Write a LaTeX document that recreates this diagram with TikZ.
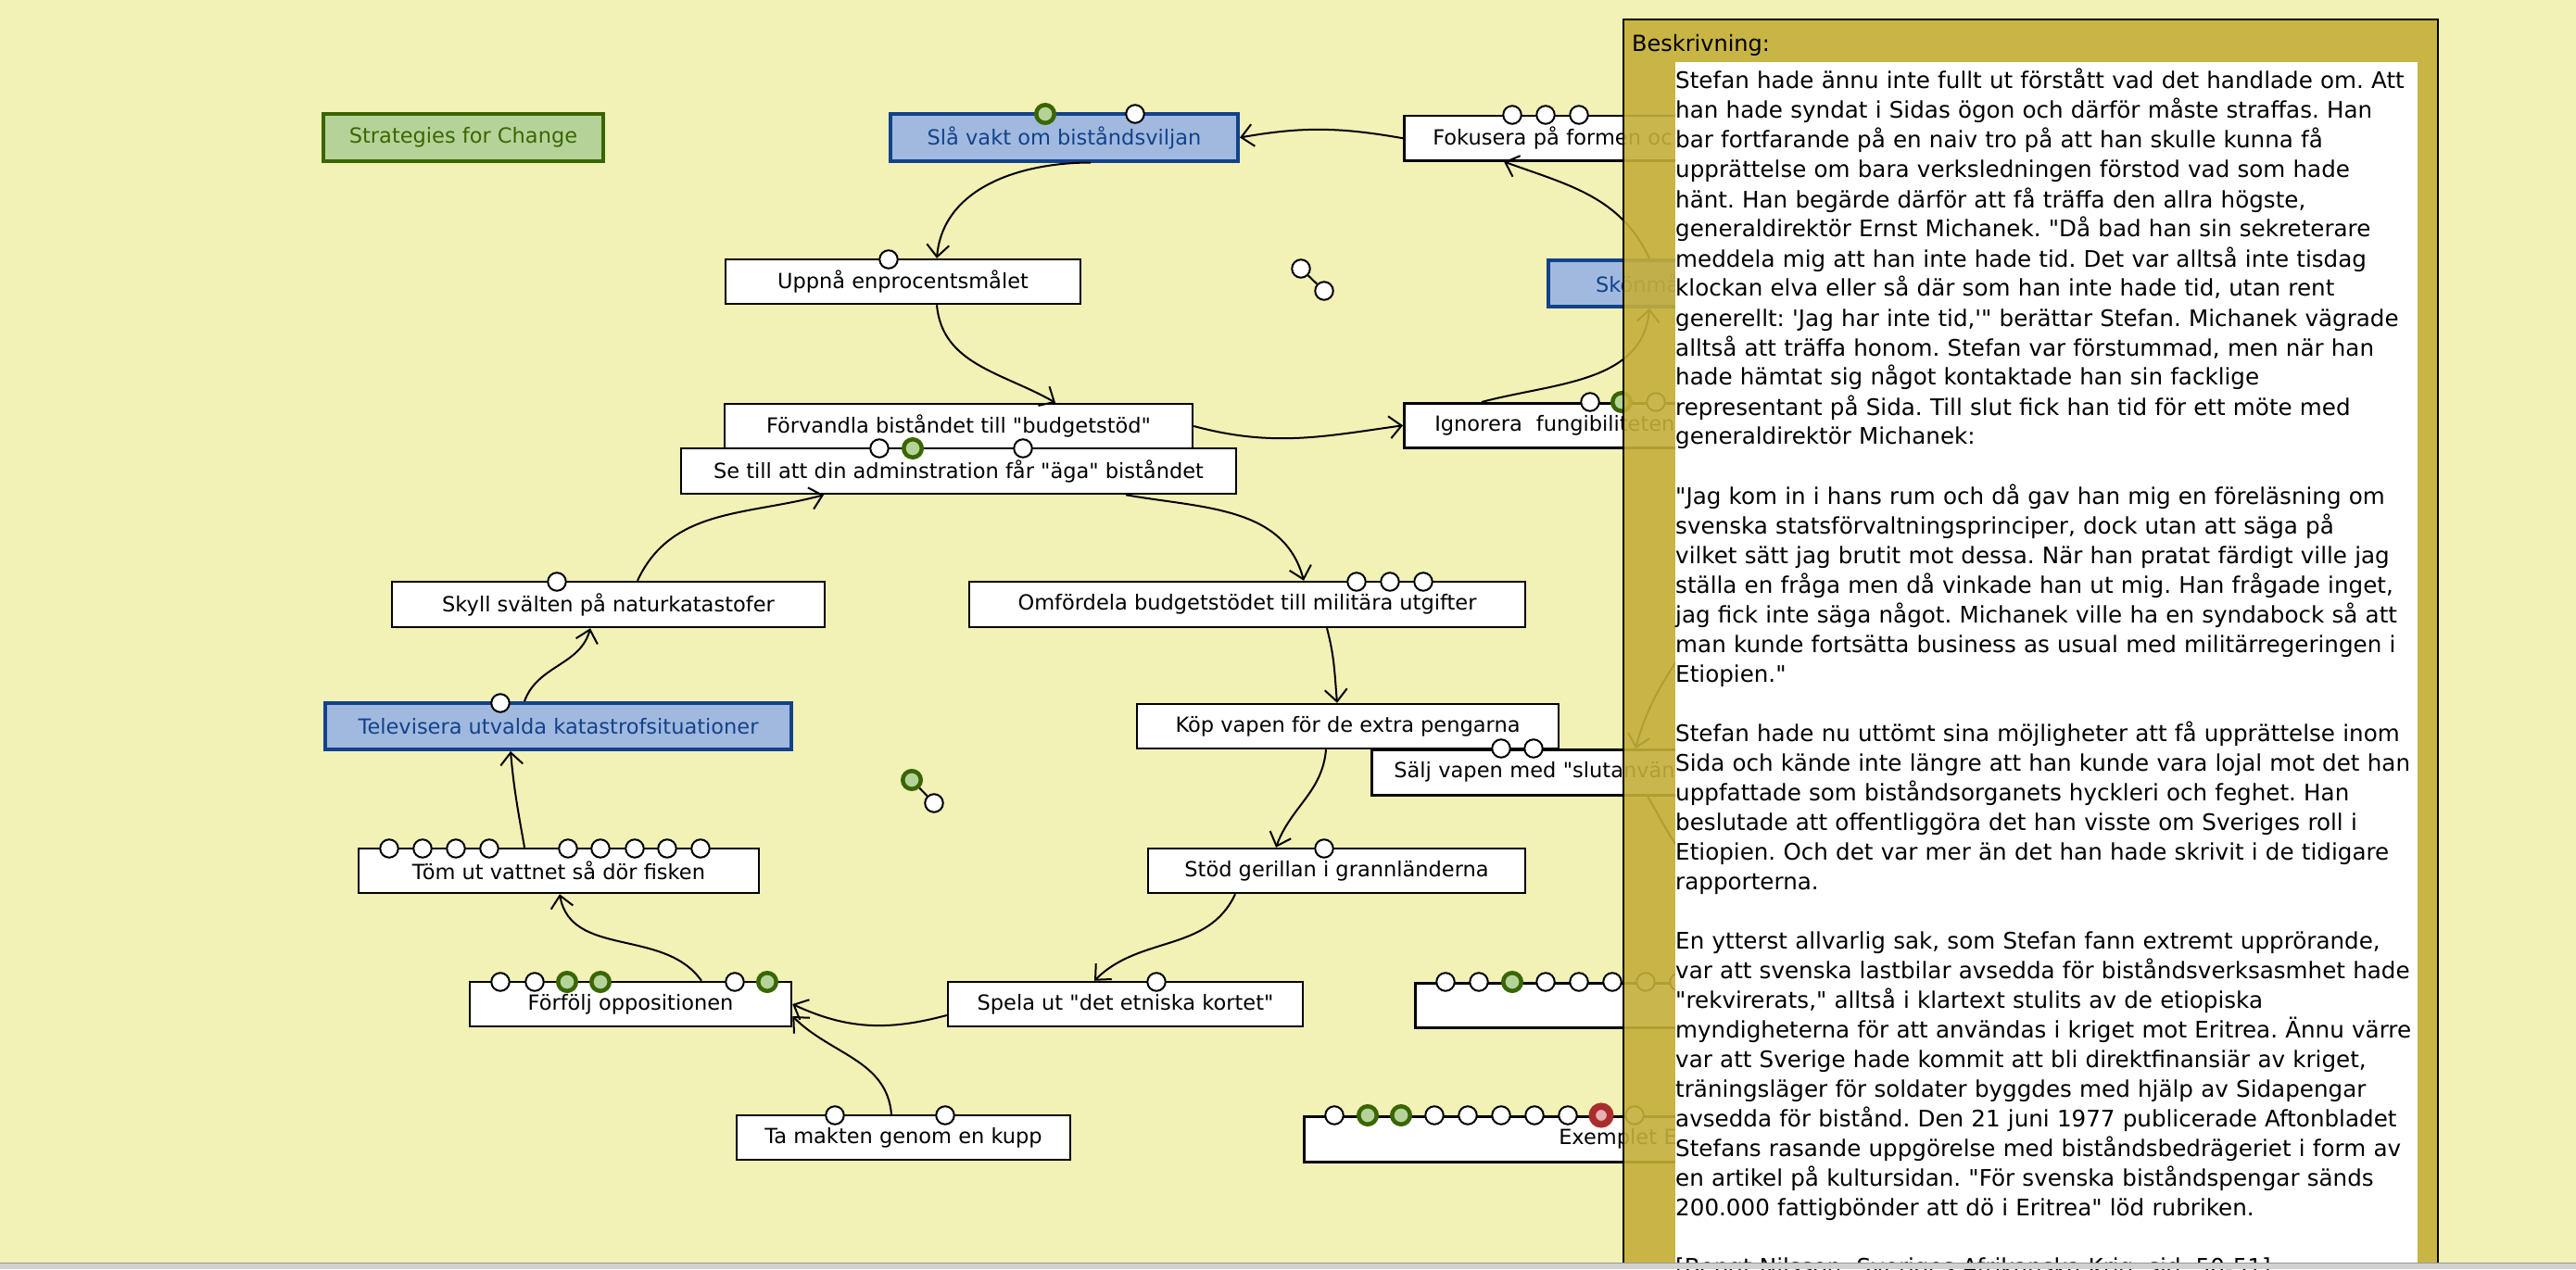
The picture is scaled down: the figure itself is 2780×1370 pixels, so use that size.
\documentclass[tikz,border=0pt]{standalone}
\usepackage{fontspec}
\setmainfont{DejaVu Sans}[Ligatures=TeXOff]
\usetikzlibrary{positioning,arrows,arrows.meta,calc}
\frenchspacing

\definecolor{bgyellow}{RGB}{242,241,182}
\definecolor{panelgold}{RGB}{196,175,58}
\definecolor{boxblue}{RGB}{18,66,140}
\definecolor{fillblue}{RGB}{161,185,222}
\definecolor{boxgreen}{RGB}{58,102,0}
\definecolor{fillgreen}{RGB}{181,211,153}
\definecolor{badred}{RGB}{170,45,45}
\definecolor{badpink}{RGB}{232,175,180}

\begin{document}
\begin{tikzpicture}[x=1pt,y=-1pt,
    >={Straight Barb[length=13pt,width=24pt]},
    every node/.style={font=\fontsize{22.5}{27}\selectfont},
    stepbox/.style={draw,line width=2.5pt,fill=white,inner sep=0pt,minimum height=48pt},
    bluebox/.style={stepbox,line width=4pt,draw=boxblue,fill=fillblue,text=boxblue,minimum height=50pt},
    greenbox/.style={stepbox,line width=4pt,draw=boxgreen,fill=fillgreen,text=boxgreen,minimum height=50pt},
    port/.style={circle,draw,line width=2pt,fill=white,inner sep=0pt,minimum size=19.5pt},
    porton/.style={port,draw=boxgreen,fill=fillgreen,line width=4.5pt},
    portbad/.style={port,draw=badred,fill=badpink,line width=7.5pt},
    link/.style={->,line width=2pt}]

  \fill[bgyellow] (0,0) rectangle (2780,1370);
  \useasboundingbox (0,0) rectangle (2780,1370);

  % strategy steps
  \node[greenbox,minimum width=302pt] (title) at (500,148.5) {Strategies for Change};
  \node[bluebox,minimum width=375pt] (slak) at (1148.5,148.5) {Slå vakt om biståndsviljan};
  \node[stepbox,minimum width=383pt] (uppna) at (974.5,304) {Uppnå enprocentsmålet};
  \node[stepbox,anchor=north west,inner xsep=31pt,text width=420pt,align=left] (foku) at (1514,124) {Fokusera på formen oc};
  \node[bluebox,anchor=north west,inner xsep=51pt,text width=300pt,align=left] (skon) at (1669,279) {Skönmå};
  \node[stepbox,minimum width=505pt] (forv) at (1034.5,460) {Förvandla biståndet till "budgetstöd"};
  \node[stepbox,anchor=north west,inner xsep=33pt,text width=420pt,align=left] (igno) at (1514,434) {Ignorera\ \ fungibiliteten};
  \node[stepbox,minimum width=599pt,minimum height=49pt] (setill) at (1034.5,508.5) {Se till att din adminstration får "äga" biståndet};
  \node[stepbox,minimum width=467pt,minimum height=49pt] (skyll) at (656.5,652.5) {Skyll svälten på naturkatastofer};
  \node[stepbox,minimum width=600pt,minimum height=49pt] (omf) at (1346,652.5) {Omfördela budgetstödet till militära utgifter};
  \node[bluebox,minimum width=503pt] (telev) at (602.5,784) {Televisera utvalda katastrofsituationer};
  \node[stepbox,minimum width=455pt] (kop) at (1454.5,784) {Köp vapen för de extra pengarna};
  \node[stepbox,anchor=north west,inner xsep=24pt,text width=420pt,align=left,minimum height=49pt] (salj) at (1479,808) {Sälj vapen med "slutanvän};
  \node[stepbox,minimum width=432pt] (tom) at (603,940) {Töm ut vattnet så dör fisken};
  \node[stepbox,minimum width=407pt] (stod) at (1442.5,940) {Stöd gerillan i grannländerna};
  \node[stepbox,minimum width=347pt] (forf) at (680.5,1084) {Förfölj oppositionen};
  \node[stepbox,minimum width=383pt] (spela) at (1214.5,1084) {Spela ut "det etniska kortet"};
  \node[stepbox,anchor=north west,minimum width=520pt] (blank) at (1526,1060) {};
  \node[stepbox,minimum width=360pt] (ta) at (975,1228) {Ta makten genom en kupp};
  \node[stepbox,anchor=north west,inner xsep=275pt,text width=300pt,align=left,minimum height=49pt] (exem) at (1406,1204) {Exemplet E};

  % hidden ends under the description panel
  \coordinate (hidA) at (1850,650);
  \coordinate (hidB) at (1860,960);

  \draw[link] (foku.west) to[out=170,in=10] (slak.east);
  \draw[link] ([xshift=28.5pt]slak.south) to[out=180,in=85] ([xshift=36.5pt]uppna.north);
  \draw[link] ([xshift=36.5pt]uppna.south) to[out=-85,in=150] ([xshift=104.5pt]forv.north);
  \draw[link] (forv.east) to[out=-15,in=188] (igno.west);
  \draw[link] ([xshift=85pt]igno.north west) to[out=15,in=-95] ([xshift=111pt]skon.south west);
  \draw[link] ([xshift=111pt]skon.north west) to[out=115,in=-20] ([xshift=109pt]foku.south west);
  \draw[link] ([xshift=180.5pt]setill.south) to[out=-10,in=105] ([xshift=61pt]omf.north);
  \draw[link] ([xshift=31.5pt]skyll.north) to[out=65,in=195] ([xshift=-145.5pt]setill.south);
  \draw[link] ([xshift=-36.5pt]telev.north) to[out=70,in=-105] ([xshift=-19.5pt]skyll.south);
  \draw[link] ([xshift=86pt]omf.south) to[out=-75,in=95] ([xshift=-11.5pt]kop.north);
  \draw[link] ([xshift=-23.5pt]kop.south) to[out=-95,in=70] ([xshift=-65.5pt]stod.north);
  \draw[link] ([xshift=-109.5pt]stod.south) to[out=-115,in=45] ([xshift=-33.5pt]spela.north);
  \draw[link] ([yshift=-12pt]spela.west) to[out=195,in=-25] (forf.east);
  \draw[link] ([xshift=-13pt]ta.north) to[out=95,in=-45] ([yshift=-13pt]forf.east);
  \draw[link] ([xshift=76.5pt]forf.north) to[out=125,in=-80] ([xshift=1pt]tom.south);
  \draw[link] ([xshift=-37pt]tom.north) to[out=100,in=-85] ([xshift=-51.5pt]telev.south);
  \draw[link] (hidA) to[out=-120,in=75] ([xshift=286pt]salj.north west);
  \draw[link] ([xshift=299pt]salj.south west) to[out=-60,in=150] (hidB);

  % ports along the top edges
  \node[porton] (slakp1) at (1128,123) {};
  \node[port] (slakp2) at (1225,123) {};
  \node[port] (uppnap1) at (959,280) {};
  \foreach \x [count=\i] in {1632,1668,1704}
    \node[port] (fokup\i) at (\x,124) {};
  \node[port] (ignop1) at (1716,434) {};
  \node[porton] (ignop2) at (1750,434) {};
  \node[port] (ignop3) at (1787,434) {};
  \node[port] (setillp1) at (949,484) {};
  \node[porton] (setillp2) at (985,484) {};
  \node[port] (setillp3) at (1104,484) {};
  \node[port] (skyllp1) at (601,628) {};
  \foreach \x [count=\i] in {1464,1500,1536}
    \node[port] (omfp\i) at (\x,628) {};
  \node[port] (televp1) at (540,759) {};
  \node[port] (saljp1) at (1620,808) {};
  \node[port] (saljp2) at (1655,808) {};
  \foreach \x [count=\i] in {420,456,492,528,613,648,685,720,756}
    \node[port] (tomp\i) at (\x,916) {};
  \node[port] (stodp1) at (1429,916) {};
  \node[port] (forfp1) at (540,1060) {};
  \node[port] (forfp2) at (577,1060) {};
  \node[porton] (forfp3) at (612,1060) {};
  \node[porton] (forfp4) at (648,1060) {};
  \node[port] (forfp5) at (793,1060) {};
  \node[porton] (forfp6) at (828,1060) {};
  \node[port] (spelap1) at (1248,1060) {};
  \foreach \x [count=\i] in {1560,1596,1668,1704,1740,1776,1812}
    \node[port] (blankp\i) at (\x,1060) {};
  \node[porton] (blankg) at (1632,1060) {};
  \node[port] (tap1) at (901,1204) {};
  \node[port] (tap2) at (1020,1204) {};
  \foreach \x [count=\i] in {1440,1548,1584,1620,1656,1692,1764}
    \node[port] (exemp\i) at (\x,1204) {};
  \node[porton] (exemg1) at (1476,1204) {};
  \node[porton] (exemg2) at (1512,1204) {};
  \node[portbad] (exemr) at (1728,1204) {};

  % loose port pairs
  \node[port] (loseA1) at (1404,290) {};
  \node[port] (loseA2) at (1429,314) {};
  \draw[line width=2pt] (loseA1) -- (loseA2);
  \node[porton] (loseB1) at (984,842) {};
  \node[port] (loseB2) at (1008,867) {};
  \draw[line width=2pt] (loseB1) -- (loseB2);

  % description panel
  \fill[panelgold,fill opacity=0.9] (1752,21) rectangle (2631,1370);
  \draw[line width=2.5pt] (1752,1370) -- (1752,21) -- (2631,21) -- (2631,1370);
  \fill[white] (1808,67) rectangle (2609,1370);
  \node[anchor=base west,inner sep=0pt,font=\fontsize{24}{32}\selectfont] (beskr) at (1761,56) {Beskrivning:};
  \node[anchor=base west,inner sep=0pt,text width=830pt,align=left,font=\fontsize{24.6}{32}\selectfont] (desc) at (1808,96) {%
Stefan hade ännu inte fullt ut förstått vad det handlade om. Att\\
han hade syndat i Sidas ögon och därför måste straffas. Han\\
bar fortfarande på en naiv tro på att han skulle kunna få\\
upprättelse om bara verksledningen förstod vad som hade\\
hänt. Han begärde därför att få träffa den allra högste,\\
generaldirektör Ernst Michanek. "Då bad han sin sekreterare\\
meddela mig att han inte hade tid. Det var alltså inte tisdag\\
klockan elva eller så där som han inte hade tid, utan rent\\
generellt: 'Jag har inte tid,'" berättar Stefan. Michanek vägrade\\
alltså att träffa honom. Stefan var förstummad, men när han\\
hade hämtat sig något kontaktade han sin facklige\\
representant på Sida. Till slut fick han tid för ett möte med\\
generaldirektör Michanek:\\[32pt]
"Jag kom in i hans rum och då gav han mig en föreläsning om\\
svenska statsförvaltningsprinciper, dock utan att säga på\\
vilket sätt jag brutit mot dessa. När han pratat färdigt ville jag\\
ställa en fråga men då vinkade han ut mig. Han frågade inget,\\
jag fick inte säga något. Michanek ville ha en syndabock så att\\
man kunde fortsätta business as usual med militärregeringen i\\
Etiopien."\\[32pt]
Stefan hade nu uttömt sina möjligheter att få upprättelse inom\\
Sida och kände inte längre att han kunde vara lojal mot det han\\
uppfattade som biståndsorganets hyckleri och feghet. Han\\
beslutade att offentliggöra det han visste om Sveriges roll i\\
Etiopien. Och det var mer än det han hade skrivit i de tidigare\\
rapporterna.\\[32pt]
En ytterst allvarlig sak, som Stefan fann extremt upprörande,\\
var att svenska lastbilar avsedda för biståndsverksasmhet hade\\
"rekvirerats," alltså i klartext stulits av de etiopiska\\
myndigheterna för att användas i kriget mot Eritrea. Ännu värre\\
var att Sverige hade kommit att bli direktfinansiär av kriget,\\
träningsläger för soldater byggdes med hjälp av Sidapengar\\
avsedda för bistånd. Den 21 juni 1977 publicerade Aftonbladet\\
Stefans rasande uppgörelse med biståndsbedrägeriet i form av\\
en artikel på kultursidan. "För svenska biståndspengar sänds\\
200.000 fattigbönder att dö i Eritrea" löd rubriken.\\[32pt]
[Bengt Nilsson: Sveriges Afrikanska Krig, sid. 50-51]};

  % window edge
  \fill[black!18] (0,1363) rectangle (2780,1370);
  \draw[black!40,line width=1pt] (0,1363) -- (2780,1363);
\end{tikzpicture}
\end{document}
